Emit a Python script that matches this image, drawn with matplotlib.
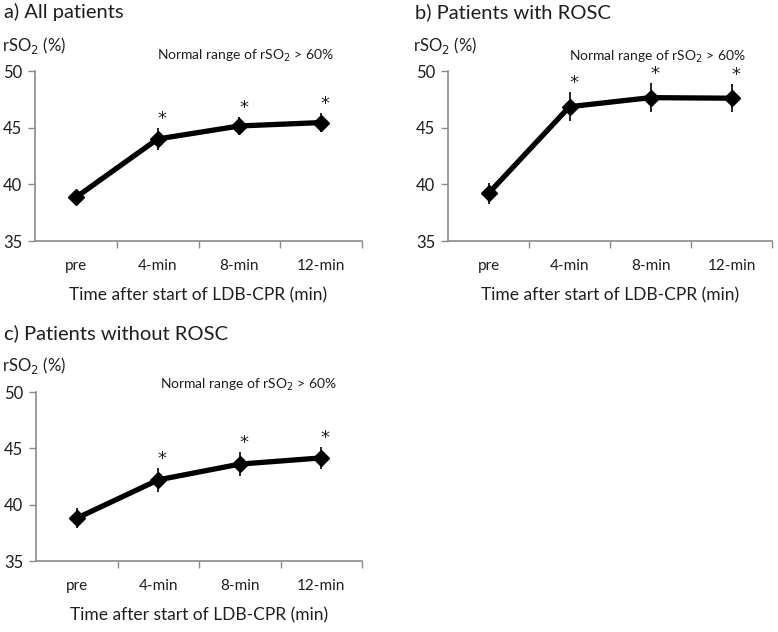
import matplotlib
matplotlib.use('Agg')
import matplotlib.pyplot as plt
import numpy as np

plt.rcParams['font.family'] = ['Lato', 'DejaVu Sans']

times = ['pre', '4-min', '8-min', '12-min']

# panel a) all patients
mean_a = [38.85, 44.0, 45.15, 45.45]
err_a = [0.65, 1.0, 0.8, 0.85]
# panel b) with ROSC
mean_b = [39.2, 46.85, 47.65, 47.6]
err_b = [0.95, 1.3, 1.25, 1.25]
# panel c) without ROSC
mean_c = [38.8, 42.2, 43.6, 44.15]
err_c = [0.9, 1.05, 1.05, 0.95]

signif = [False, True, True, True]

W, H = 778, 632
fig = plt.figure(figsize=(W / 100, H / 100), dpi=100)

GRAY = '#8a8a8a'
TXT = '#1e1e1e'


def px_axes(x0, x1, ytop, ybot):
    return fig.add_axes([x0 / W, 1 - ybot / H, (x1 - x0) / W, (ybot - ytop) / H])


def panel(ax, mean, err, title, tx, ty):
    x = np.arange(len(times)) + 0.5
    ax.errorbar(x, mean, yerr=err, color='black', lw=3.8, marker='D', ms=8.5,
                elinewidth=1.2, capsize=0, zorder=3)
    for xi, m, e, s in zip(x, mean, err, signif):
        if s:
            ax.annotate('*', (xi, m + e), xytext=(3, 0), textcoords='offset points',
                        ha='center', va='bottom', fontsize=13, color=TXT,
                        family='DejaVu Sans')
    ax.set_xlim(0, 4)
    ax.set_ylim(35, 50)
    ax.set_yticks([35, 40, 45, 50])
    ax.set_xticks([1, 2, 3, 4])
    ax.set_xticklabels([])
    ax.set_xticks(x, minor=True)
    ax.set_xticklabels(times, minor=True)
    ax.tick_params(axis='x', which='minor', length=0, pad=13, labelsize=11, colors=TXT)
    ax.tick_params(axis='x', which='major', length=5, color=GRAY, width=1)
    ax.tick_params(axis='y', length=5, color=GRAY, width=1, labelsize=12, colors=TXT, pad=4)
    for s in ['top', 'right']:
        ax.spines[s].set_visible(False)
    for s in ['left', 'bottom']:
        ax.spines[s].set_color(GRAY)
        ax.spines[s].set_linewidth(1.2)
    ax.text(0.5, -0.32, 'Time after start of LDB-CPR (min)', transform=ax.transAxes,
            ha='center', va='center', fontsize=12.5, color=TXT)
    fig.text(tx / W, 1 - ty / H, title, ha='left', va='center', fontsize=14.5, color=TXT)
    fig.text((tx - 2) / W, 1 - (ty + 33) / H, r'rSO$_2$ (%)', ha='left', va='center',
             fontsize=12, color=TXT)


def note(ax, x0, y0):
    fig.text(x0 / W, 1 - y0 / H, r'Normal range of rSO$_2$ > 60%', ha='left', va='center',
             fontsize=10, color=TXT)


ax_a = px_axes(35, 362, 71, 241)
panel(ax_a, mean_a, err_a, 'a) All patients', 4, 12)
note(ax_a, 157, 56)

ax_b = px_axes(448, 772, 71, 241)
panel(ax_b, mean_b, err_b, 'b) Patients with ROSC', 415, 12)
note(ax_b, 569, 57)

ax_c = px_axes(36, 362, 392, 561)
panel(ax_c, mean_c, err_c, 'c) Patients without ROSC', 4, 333)
note(ax_c, 160, 385)

fig.savefig('out.png', dpi=100)
